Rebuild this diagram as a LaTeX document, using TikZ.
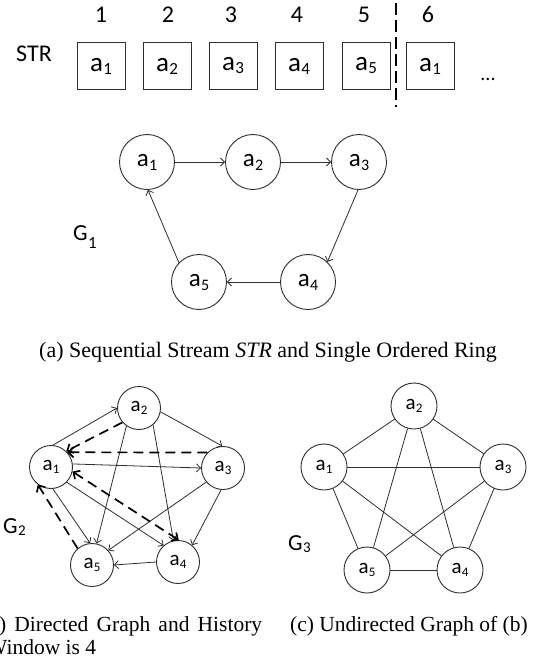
\documentclass[tikz,border=0pt]{standalone}
\usepackage{fontspec}
\setmainfont{Liberation Serif}
\newfontfamily\labfont{Carlito}
\usetikzlibrary{arrows.meta}

% letter with a lowered index: size, letter, index size, index, drop
\newcommand\idx[5]{{\labfont\fontsize{#1}{#1}\selectfont #2\kern0.3pt\raisebox{#5}{\fontsize{#3}{#3}\selectfont #4}}}
\newcommand\boxlab[1]{\idx{27}{a}{17}{#1}{-3pt}}
\newcommand\ringlab[1]{\idx{25}{a}{16}{#1}{-4pt}}
\newcommand\graphlab[1]{\idx{21}{a}{13}{#1}{-3pt}}

\definecolor{linecol}{HTML}{2E2E2E}

\tikzset{
  cell/.style={draw=linecol, line width=0.9pt, minimum width=48pt, minimum height=47pt, inner sep=0pt},
  bigring/.style={circle, draw=linecol, line width=0.9pt, minimum size=55pt, inner sep=0pt},
  smallring/.style={circle, draw=linecol, line width=0.9pt, minimum size=43pt, inner sep=0pt},
  wirelink/.style={draw=linecol, line width=0.8pt},
  fwdarc/.style={wirelink, -{Straight Barb[length=4pt,width=8pt]}},
  histarc/.style={draw=black, line width=1.7pt, dash pattern=on 10pt off 6pt, -{Straight Barb[length=5pt,width=10pt]}},
  histboth/.style={histarc, {Straight Barb[length=5pt,width=10pt]}-{Straight Barb[length=5pt,width=10pt]}},
  numlab/.style={font=\labfont\fontsize{24}{24}\selectfont, anchor=base, inner sep=0pt},
  caption/.style={font=\fontsize{21.5}{23}\selectfont, inner sep=0pt},
}

\begin{document}
\begin{tikzpicture}[x=1pt, y=-1pt]
  \fill[white] (0,0) rectangle (539,658);
  \useasboundingbox (0,0) rectangle (539,658);

  % ---------- sequential stream ----------
  \node[numlab] (strlab) at (34,62) {STR};
  \node[numlab] (n1) at (101,23) {1};
  \node[numlab] (n2) at (168,23) {2};
  \node[numlab] (n3) at (231,23) {3};
  \node[numlab] (n4) at (297,23) {4};
  \node[numlab] (n5) at (364,23) {5};
  \node[numlab] (n6) at (428,23) {6};

  \node[cell] (s1) at (101,66) {\boxlab{1}};
  \node[cell] (s2) at (167,66) {\boxlab{2}};
  \node[cell] (s3) at (233,66) {\boxlab{3}};
  \node[cell] (s4) at (299,66) {\boxlab{4}};
  \node[cell] (s5) at (366,66) {\boxlab{5}};
  \node[cell] (s6) at (430,66) {\boxlab{1}};
  \node[anchor=base, inner sep=0pt, font=\labfont\fontsize{20}{20}\selectfont] (more) at (488,81) {...};

  \coordinate (cuttop) at (396,3);
  \coordinate (cutbot) at (396,107);
  \draw[line width=2.5pt, dash pattern=on 12pt off 5pt] (cuttop) -- (cutbot);

  % ---------- single ordered ring ----------
  \node[bigring] (r1) at (147,162) {\ringlab{1}};
  \node[bigring] (r2) at (253,162) {\ringlab{2}};
  \node[bigring] (r3) at (359,162) {\ringlab{3}};
  \node[bigring] (r4) at (308,282) {\ringlab{4}};
  \node[bigring] (r5) at (199,282) {\ringlab{5}};
  \node[anchor=base west, inner sep=0pt] (g1) at (73,240) {\idx{23}{G}{17}{1}{-8pt}};

  \draw[fwdarc] (r1.east) -- (r2.west);
  \draw[fwdarc] (r2.east) -- (r3.west);
  \draw[fwdarc] (r3.-92) -- (r4.46);
  \draw[fwdarc] (r4.west) -- (r5.east);
  \draw[fwdarc] (r5.136) -- (r1.-88);

  \node[caption, anchor=base, font=\fontsize{22}{24}\selectfont] (capa) at (268,357) {(a) Sequential Stream \textit{STR} and Single Ordered Ring};

  % ---------- directed graph, history window 4 ----------
  \node[smallring] (b1) at (51,467) {\graphlab{1}};
  \node[smallring] (b2) at (139,408) {\graphlab{2}};
  \node[smallring] (b3) at (223,468) {\graphlab{3}};
  \node[smallring] (b4) at (178,562) {\graphlab{4}};
  \node[smallring] (b5) at (92,565) {\graphlab{5}};
  \node[anchor=base west, inner sep=0pt] (g2) at (3,533) {\idx{23}{G}{15}{2}{-2.5pt}};

  \draw[fwdarc] (b1.85) -- (b2.180);
  \draw[fwdarc] (b2.-10) -- (b3.92);
  \draw[fwdarc] (b1.8) -- (b3.180);
  \draw[fwdarc] (b1.-44) -- (b4.131);
  \draw[fwdarc] (b1.-85) -- (b5.95);
  \draw[fwdarc] (b2.-125) -- (b5.78);
  \draw[fwdarc] (b2.-50) -- (b4.102);
  \draw[fwdarc] (b3.-140) -- (b5.42);
  \draw[fwdarc] (b3.-95) -- (b4.50);
  \draw[fwdarc] (b4.west) -- (b5.east);

  \draw[histarc] (b2.221) -- (b1.46);
  \draw[histarc] (b3.135) -- (b1.42);
  \draw[histboth] (b4.88) -- (b1.-12);
  \draw[histarc] (b5.131) -- (b1.233);

  \node[caption, anchor=base west] (capb1) at (-19,631) {\makebox[281pt][s]{(b) Directed Graph and History}};
  \node[caption, anchor=base west] (capb2) at (-13,654) {Window is 4};

  % ---------- undirected graph ----------
  \node[smallring, minimum size=46pt] (u1) at (324,467) {\graphlab{1}};
  \node[smallring, minimum size=46pt] (u2) at (414,406) {\graphlab{2}};
  \node[smallring, minimum size=46pt] (u3) at (503,467) {\graphlab{3}};
  \node[smallring, minimum size=46pt] (u4) at (460,570) {\graphlab{4}};
  \node[smallring, minimum size=46pt] (u5) at (367,570) {\graphlab{5}};
  \node[anchor=base west, inner sep=0pt] (g3) at (288,550) {\idx{23}{G}{15}{3}{-2.5pt}};

  \draw[wirelink] (u1) -- (u2);
  \draw[wirelink] (u1) -- (u3);
  \draw[wirelink] (u1) -- (u4);
  \draw[wirelink] (u1) -- (u5);
  \draw[wirelink] (u2) -- (u3);
  \draw[wirelink] (u2) -- (u4);
  \draw[wirelink] (u2) -- (u5);
  \draw[wirelink] (u3) -- (u4);
  \draw[wirelink] (u3) -- (u5);
  \draw[wirelink] (u4) -- (u5);

  \node[caption, anchor=base west] (capc) at (290,631) {(c) Undirected Graph of (b)};
\end{tikzpicture}
\end{document}
